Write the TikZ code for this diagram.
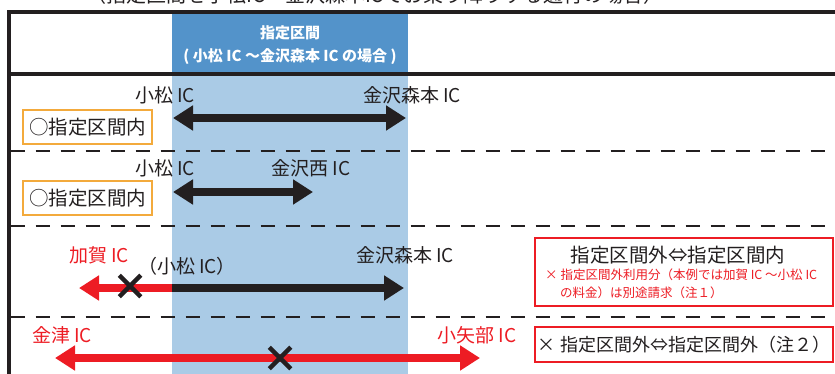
\documentclass[tikz,border=0pt]{standalone}
\usepackage{fontspec}
\setmainfont{Noto Sans CJK JP}
\usetikzlibrary{arrows.meta,shapes.misc}
\definecolor{ink}{HTML}{231F20}
\definecolor{jred}{HTML}{ED1C24}
\definecolor{jorange}{HTML}{F3AA3C}
\definecolor{hdrblue}{HTML}{5393CA}
\definecolor{lightblue}{HTML}{AACBE6}
\tikzset{
  lbl/.style={font=\fontsize{19}{19}\selectfont, text=ink, inner sep=0pt},
  rlbl/.style={font=\fontsize{19}{19}\selectfont, text=jred, inner sep=0pt},
  hdr/.style={font=\fontsize{15}{15}\selectfont\bfseries, text=white, inner sep=0pt},
  obox/.style={draw=jorange, line width=2.2pt, fill=white, minimum width=129pt, minimum height=34pt, inner sep=0pt, font=\fontsize{19.5}{19.5}\selectfont, text=ink},
  rbox/.style={draw=jred, line width=2.5pt, fill=white, inner sep=0pt, font=\fontsize{18}{18}\selectfont, text=ink},
  note/.style={font=\fontsize{12.5}{12.5}\selectfont, text=jred, inner sep=0pt},
  dashline/.style={ink, line width=1.5pt, dash pattern=on 14pt off 11pt, dash phase=-2pt},
  bigarrow/.style={line width=7.5pt},
  tipa/.tip={Triangle[length=20pt,width=24pt]},
  crossmark/.style={cross out, draw=ink, line width=4.5pt, minimum size=17pt, inner sep=0pt}
}
\begin{document}
\begin{tikzpicture}[x=1pt,y=-1pt]
\useasboundingbox (0,0) rectangle (835,374);
\clip (0,0) rectangle (835,374);
% clipped title
\node[anchor=base, font=\fontsize{20}{20}\selectfont, text=ink, inner sep=0pt] (title) at (375,3) {（指定区間を小松IC～金沢森本ICでお乗り降りする通行の場合）};
% blue column
\fill[hdrblue] (172,12) rectangle (408,74);
\fill[lightblue] (172,74) rectangle (408,374);
\node[hdr] (h1) at (290,33) {指定区間};
\node[hdr] (h2) at (290,57) {( 小松 IC ～金沢森本 IC の場合 )};
% frame
\draw[ink, line width=4pt] (8.5,374) -- (8.5,12) -- (835,12);
\draw[ink, line width=4pt] (8.5,74) -- (835,74);
\draw[dashline] (8.5,151) -- (835,151);
\draw[dashline] (8.5,226) -- (835,226);
\draw[dashline] (8.5,317) -- (835,317);
% row 1
\node[lbl] (r1a) at (165,95) {小松 IC};
\node[lbl] (r1b) at (412,95) {金沢森本 IC};
\coordinate (r1l) at (173,118);
\coordinate (r1r) at (406,118);
\draw[bigarrow, ink, {tipa}-{tipa}] (r1l) -- (r1r);
\node[obox] (o1) at (87.5,127) {○指定区間内};
% row 2
\node[lbl] (r2a) at (165,168) {小松 IC};
\node[lbl] (r2b) at (311,168) {金沢西 IC};
\coordinate (r2l) at (173,192);
\coordinate (r2r) at (313,192);
\draw[bigarrow, ink, {tipa}-{tipa}] (r2l) -- (r2r);
\node[obox] (o2) at (87.5,198) {○指定区間内};
% row 3
\node[rlbl] (r3a) at (99,255) {加賀 IC};
\node[lbl] (r3b) at (187,266) {（小松 IC）};
\node[lbl] (r3c) at (405,255) {金沢森本 IC};
\coordinate (r3m) at (172,288);
\coordinate (r3l) at (79,288);
\coordinate (r3r) at (404,288);
\draw[bigarrow, jred, -{tipa}] (r3m) -- (r3l);
\draw[bigarrow, ink, -{tipa}] (r3m) -- (r3r);
\node[crossmark] (x1) at (130,286) {};
% row 4
\node[rlbl] (r4a) at (62,335) {金津 IC};
\node[rlbl] (r4b) at (477,335) {小矢部 IC};
\coordinate (r4l) at (55,358);
\coordinate (r4r) at (480,358);
\draw[bigarrow, jred, {tipa}-{tipa}] (r4l) -- (r4r);
\node[crossmark] (x2) at (280,358) {};
% right boxes
\node[rbox, minimum width=298pt, minimum height=68pt] (b1) at (684,272) {};
\node[font=\fontsize{19.5}{19.5}\selectfont, text=ink, inner sep=0pt] (b1t) at (678,255) {指定区間外⇔指定区間内};
\node[note, anchor=west] (b1n1) at (545,275) {× 指定区間外利用分（本例では加賀 IC ～小松 IC};
\node[note, anchor=west] (b1n2) at (560,293) {の料金）は別途請求（注１）};
\node[rbox, minimum width=298pt, minimum height=35pt] (b2) at (684,344.5) {× 指定区間外⇔指定区間外（注２）};
\end{tikzpicture}
\end{document}
